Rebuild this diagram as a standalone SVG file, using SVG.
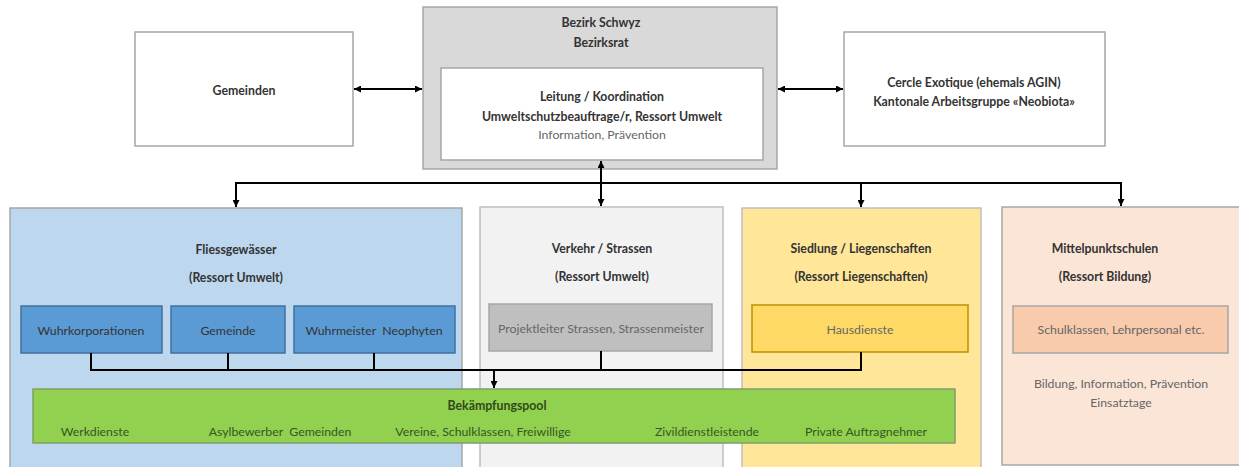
<svg xmlns="http://www.w3.org/2000/svg" width="1239" height="467" viewBox="0 0 1239 467">
<defs>
<marker id="ah" viewBox="0 0 10 10" refX="10" refY="5" markerWidth="7" markerHeight="7" orient="auto-start-reverse" markerUnits="userSpaceOnUse">
<path d="M0,0 L10,5 L0,10 z" fill="#000"/>
</marker>
<style>
text{font-family:Lato,"Liberation Sans",sans-serif;font-size:12.3px;fill:#333;text-anchor:middle;dominant-baseline:central}
.b{font-weight:bold}
.g{fill:#666}
.box{stroke:#a6a6a6;stroke-width:1.5}
.ln{stroke:#000;stroke-width:2;fill:none}
.arr{stroke:#000;stroke-width:2;fill:none;marker-end:url(#ah)}
.arr2{stroke:#000;stroke-width:2;fill:none;marker-end:url(#ah);marker-start:url(#ah)}
</style>
</defs>
<rect width="1239" height="467" fill="#fff"/>

<g id="gemeinden">
<rect class="box" x="135" y="32" width="218" height="114" fill="#fff"/>
<text class="b" x="244" y="90">Gemeinden</text>
</g>

<g id="bezirk">
<rect class="box" x="423" y="7" width="354" height="162" fill="#d9d9d9"/>
<text class="b" x="601" y="22">Bezirk Schwyz</text>
<text class="b" x="601" y="42">Bezirksrat</text>
</g>

<g id="leitung">
<rect class="box" x="441" y="68" width="322" height="92" fill="#fff"/>
<text class="b" x="602" y="96">Leitung / Koordination</text>
<text class="b" x="602" y="116">Umweltschutzbeauftrage/r, Ressort Umwelt</text>
<text class="g" x="602" y="134">Information, Prävention</text>
</g>

<g id="cercle">
<rect class="box" x="844" y="32" width="261" height="114" fill="#fff"/>
<text class="b" x="974" y="82">Cercle Exotique (ehemals AGIN)</text>
<text class="b" x="974" y="101">Kantonale Arbeitsgruppe «Neobiota»</text>
</g>

<g id="fliessgewaesser">
<rect class="box" x="10" y="208" width="452" height="262" fill="#bdd7ee"/>
<text class="b" x="236" y="249">Fliessgewässer</text>
<text class="b" x="236" y="277">(Ressort Umwelt)</text>
</g>

<g id="wuhrkorporationen">
<rect x="21" y="306" width="141" height="47" fill="#5b9bd5" stroke="#41719c" stroke-width="1.5"/>
<text x="91" y="330">Wuhrkorporationen</text>
</g>
<g id="gemeinde">
<rect x="171" y="306" width="114" height="47" fill="#5b9bd5" stroke="#41719c" stroke-width="1.5"/>
<text x="228" y="330">Gemeinde</text>
</g>
<g id="wuhrmeister">
<rect x="294" y="306" width="161" height="47" fill="#5b9bd5" stroke="#41719c" stroke-width="1.5"/>
<text x="374" y="330" xml:space="preserve">Wuhrmeister  Neophyten</text>
</g>

<g id="verkehr">
<rect x="480" y="207" width="243" height="263" fill="#f2f2f2" stroke="#bfbfbf" stroke-width="1.5"/>
<text class="b" x="602" y="248">Verkehr / Strassen</text>
<text class="b" x="602" y="276">(Ressort Umwelt)</text>
</g>
<g id="projektleiter">
<rect x="489" y="304" width="223" height="47" fill="#bfbfbf" stroke="#a6a6a6" stroke-width="1.5"/>
<text class="g" x="601" y="328">Projektleiter Strassen, Strassenmeister</text>
</g>

<g id="siedlung">
<rect x="742" y="208" width="239" height="262" fill="#ffe699" stroke="#bfbfbf" stroke-width="1.5"/>
<text class="b" x="861" y="248">Siedlung / Liegenschaften</text>
<text class="b" x="861" y="276">(Ressort Liegenschaften)</text>
</g>
<g id="hausdienste">
<rect x="752" y="305" width="216" height="47" fill="#ffd966" stroke="#bf9000" stroke-width="1.5"/>
<text class="g" x="860" y="329">Hausdienste</text>
</g>

<g id="mittelpunktschulen">
<rect x="1002" y="207" width="250" height="258" fill="#fbe5d6" stroke="#a6a6a6" stroke-width="1.5"/>
<text class="b" x="1105" y="248">Mittelpunktschulen</text>
<text class="b" x="1105" y="276">(Ressort Bildung)</text>
<text class="g" x="1121" y="383">Bildung, Information, Prävention</text>
<text class="g" x="1121" y="402">Einsatztage</text>
</g>
<g id="schulklassen">
<rect x="1013" y="306" width="215" height="47" fill="#f8cbad" stroke="#a6a6a6" stroke-width="1.5"/>
<text class="g" x="1121" y="329">Schulklassen, Lehrpersonal etc.</text>
</g>

<g id="bekaempfungspool">
<rect x="33" y="389" width="922" height="54" fill="#92d050" stroke="#7f9f6a" stroke-width="1.5"/>
<text class="b" x="497" y="405" style="fill:#2f4a1a">Bekämpfungspool</text>
<text x="95" y="431" style="fill:#375623">Werkdienste</text>
<text x="280" y="431" style="fill:#375623" xml:space="preserve">Asylbewerber  Gemeinden</text>
<text x="483" y="431" style="fill:#375623">Vereine, Schulklassen, Freiwillige</text>
<text x="707" y="431" style="fill:#375623">Zivildienstleistende</text>
<text x="866" y="431" style="fill:#375623">Private Auftragnehmer</text>
</g>

<g id="connectors">
<line class="arr2" x1="354" y1="89" x2="422" y2="89"/>
<line class="arr2" x1="778" y1="89" x2="843" y2="89"/>
<line class="ln" x1="235" y1="183" x2="1122" y2="183"/>
<line class="arr" x1="601" y1="183" x2="601" y2="161"/>
<line class="arr" x1="601" y1="183" x2="601" y2="206"/>
<line class="arr" x1="236" y1="183" x2="236" y2="207"/>
<line class="arr" x1="861" y1="183" x2="861" y2="207"/>
<line class="arr" x1="1121" y1="182" x2="1121" y2="206"/>
<polyline class="ln" points="91,353 91,370 861,370 861,352"/>
<line class="ln" x1="228" y1="353" x2="228" y2="370"/>
<line class="ln" x1="374" y1="353" x2="374" y2="370"/>
<line class="ln" x1="601" y1="351" x2="601" y2="370"/>
<line class="arr" x1="494" y1="370" x2="494" y2="388"/>
</g>
</svg>
